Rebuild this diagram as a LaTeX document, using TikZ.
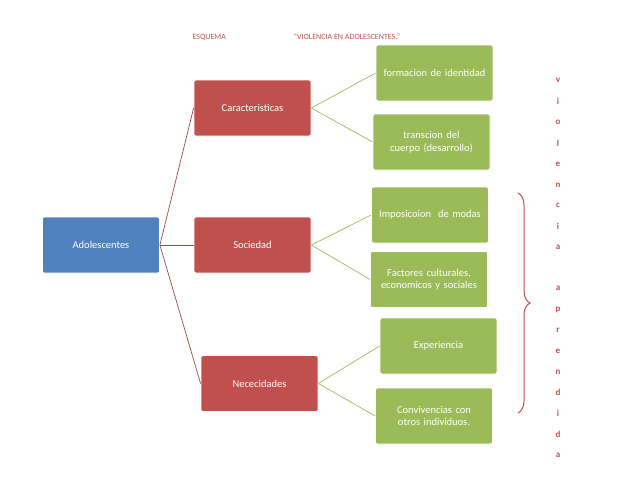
\documentclass[tikz,border=0pt]{standalone}
\usepackage{fontspec}
\setmainfont{Carlito}
\usetikzlibrary{decorations.pathreplacing}
\definecolor{cb}{HTML}{4F81BD}\definecolor{cr}{HTML}{C0504D}\definecolor{cg}{HTML}{9BBB59}
\definecolor{tr}{HTML}{C0504D}
\begin{document}
\begin{tikzpicture}[x=1pt,y=-1pt,
 box/.style={draw=white,line width=0.8pt,rounded corners=2pt,minimum width=117pt,minimum height=56pt,text width=112pt,align=center,text=white,font=\fontsize{10.5}{12.5}\selectfont,inner sep=1pt},
 bl/.style={box,fill=cb},rd/.style={box,fill=cr},gr/.style={box,fill=cg},
 lnr/.style={draw=cr!85!black,line width=0.7pt},lng/.style={draw=cg,line width=0.7pt},
 let/.style={text=cr,font=\bfseries\fontsize{9}{9}\selectfont,inner sep=0pt}]
\useasboundingbox (0,0) rectangle (638,493);
\node[bl] (ado) at (101,245) {Adolescentes};
\node[rd] (car) at (252.5,108) {Caracteristicas};
\node[rd] (soc) at (252.5,245) {Sociedad};
\node[rd] (nec) at (259.5,383.5) {Nececidades};
\node[gr] (f1) at (434.5,73) {formacion de identidad};
\node[gr] (f2) at (431.5,142) {transcion del cuerpo (desarrollo)};
\node[gr] (f3) at (430,215) {Imposicoion\ \ de modas};
\node[gr] (f4) at (429,279.5) {Factores culturales, economicos y sociales};
\node[gr] (f5) at (438.5,346) {Experiencia};
\node[gr] (f6) at (434,416) {Convivencias con otros individuos.};
\draw[lnr] (ado.east) -- (car.west);
\draw[lnr] (ado.east) -- (soc.west);
\draw[lnr] (ado.east) -- (nec.west);
\draw[lng] (car.east) -- (f1.west); \draw[lng] (car.east) -- (f2.west);
\draw[lng] (soc.east) -- (f3.west); \draw[lng] (soc.east) -- (f4.west);
\draw[lng] (nec.east) -- (f5.west); \draw[lng] (nec.east) -- (f6.west);
\node[text=cr,font=\fontsize{8}{9}\selectfont,anchor=west] (t1) at (189,37) {ESQUEMA};
\node[text=cr,font=\fontsize{8}{9}\selectfont,anchor=west] (t2) at (290,37) {“VIOLENCIA EN ADOLESCENTES.”};
\coordinate (bt) at (518,193); \coordinate (bb) at (518,413);
\draw[cr,line width=1pt,decorate,decoration={brace,amplitude=12pt,mirror}] (bb) -- (bt);
\foreach \c [count=\i] in {v,i,o,l,e,n,c,i,a}
  \node[let] (v\i) at (558,60+\i*20.8) {\c};
\foreach \c [count=\i] in {a,p,r,e,n,d,i,d,a}
  \node[let] (a\i) at (558,268+\i*20.8) {\c};
\end{tikzpicture}
\end{document}
